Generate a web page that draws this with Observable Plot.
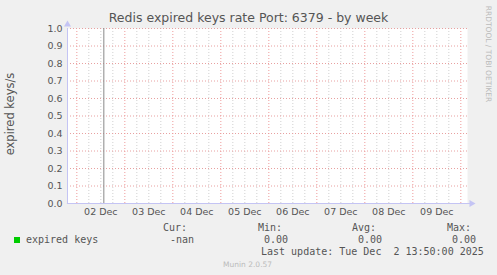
<!DOCTYPE html>
<html><head><meta charset="utf-8">
<script src="https://cdn.jsdelivr.net/npm/d3@7"></script>
<script src="https://cdn.jsdelivr.net/npm/@observablehq/plot@0.6"></script>
<style>
html,body{margin:0;padding:0;background:#f0f0f0;}
#wrap{position:relative;width:497px;height:275px;overflow:hidden;font-family:"DejaVu Sans",sans-serif;color:#555;}
.abs{position:absolute;white-space:pre;line-height:1;}
.mono{font-family:"DejaVu Sans Mono",monospace;font-size:10px;color:#555;}
</style></head>
<body><div id="wrap"></div>
<script>
// ---- data ----
const seriesName = "expired keys";
const seriesTimes = ["2025-12-01T19:20:00Z", "2025-12-02T13:30:00Z"];
const seriesValues = [0, 0];
const markerTime = "2025-12-02T13:30:00Z";
const rangeStart = "2025-12-01T19:20:00Z";
const rangeEnd = "2025-12-10T03:20:00Z";
const yTicks = [0,0.1,0.2,0.3,0.4,0.5,0.6,0.7,0.8,0.9,1.0];
const legendCur = "-nan", legendMin = "0.00", legendAvg = "0.00", legendMax = "0.00";
const lastUpdate = "Last update: Tue Dec  2 13:50:00 2025";
const title = "Redis expired keys rate Port: 6379 - by week";
const yLabel = "expired keys/s";

const t0 = new Date(rangeStart), t1 = new Date(rangeEnd);
const data = seriesTimes.map((t,i)=>({t:new Date(t), v:seriesValues[i]}));
const days = d3.utcDay.range(d3.utcDay.ceil(t0), t1);
const sixH = d3.utcHour.every(6).range(t0, t1).filter(d=>d.getUTCHours()!==0);
const noons = d3.utcHour.every(12).range(t0, t1).filter(d=>d.getUTCHours()===12);

const axisBlue = "#c4c4f4";
const chart = Plot.plot({
  width: 497, height: 275,
  marginLeft: 67, marginRight: 30, marginTop: 28, marginBottom: 72,
  style: {background: "transparent", fontFamily: "DejaVu Sans", color: "#555"},
  x: {type: "utc", domain: [t0, t1]},
  y: {domain: [0, 1]},
  marks: [
    Plot.frame({fill: "white", stroke: null}),
    Plot.ruleX(sixH, {stroke: "#d0d0d0", strokeDasharray: "1,2"}),
    Plot.ruleY(yTicks, {stroke: "#e8a0a0", strokeDasharray: "1,2"}),
    Plot.ruleX(days, {y1: 0, y2: 1, insetBottom: -3, stroke: "#ee9a9a", strokeDasharray: "1,2"}),
    Plot.ruleX([new Date(markerTime)], {stroke: "#888", strokeWidth: 1}),
    Plot.line(data, {x: "t", y: "v", stroke: "#6cc46c", strokeWidth: 1.2}),
    Plot.ruleX([t0], {stroke: axisBlue}),
    Plot.ruleY([0], {x1: t0, x2: t1, stroke: axisBlue, insetRight: -3}),
    Plot.dot([0], {x: t0, y: 1, symbol: "triangle", r: 2.6, fill: axisBlue, stroke: null, dy: -4}),
    Plot.dot([0], {x: t1, y: 0, symbol: "triangle", r: 2.6, fill: axisBlue, stroke: null, rotate: 90, dx: 4}),
    Plot.axisY({ticks: yTicks, tickFormat: d3.format(".1f"), tickSize: 0, tickPadding: 5, fontSize: 9.5, label: null}),
    Plot.axisX({ticks: noons, tickFormat: d3.utcFormat("%d %b"), tickSize: 0, tickPadding: 5, fontSize: 9.5, label: null})
  ]
});
const wrap = document.getElementById("wrap");
chart.style.position = "absolute"; chart.style.left = "0"; chart.style.top = "0";
wrap.appendChild(chart);

function addText(txt, css, cls){
  const d = document.createElement("div");
  d.className = "abs" + (cls ? " " + cls : "");
  d.textContent = txt;
  Object.assign(d.style, css);
  wrap.appendChild(d);
  return d;
}
addText(title, {left:"0", width:"497px", textAlign:"center", top:"12px", fontSize:"12.5px", color:"#555"});
addText(yLabel, {left:"11px", top:"114px", fontSize:"11.5px", transform:"translate(-50%,-50%) rotate(-90deg)", color:"#555"});
addText("RRDTOOL / TOBI OETIKER", {left:"487.5px", top:"53.5px", fontSize:"7.5px", color:"#bbb", transform:"translate(-50%,-50%) rotate(90deg)"});
const sq = document.createElement("div");
Object.assign(sq.style, {position:"absolute", left:"14px", top:"237px", width:"6px", height:"6px", background:"#00cc00"});
wrap.appendChild(sq);
addText(seriesName, {left:"26px", top:"235px"}, "mono");
addText("Cur:", {left:"163px", top:"223px"}, "mono");
addText(legendCur, {left:"170px", top:"235px"}, "mono");
addText("Min:", {left:"258px", top:"223px"}, "mono");
addText(legendMin, {left:"264px", top:"235px"}, "mono");
addText("Avg:", {left:"352px", top:"223px"}, "mono");
addText(legendAvg, {left:"358px", top:"235px"}, "mono");
addText("Max:", {left:"447px", top:"223px"}, "mono");
addText(legendMax, {left:"452px", top:"235px"}, "mono");
addText(lastUpdate, {left:"261px", top:"247px"}, "mono");
addText("Munin 2.0.57", {left:"223px", top:"261px", fontSize:"7.5px", color:"#bbb"});
</script></body></html>
